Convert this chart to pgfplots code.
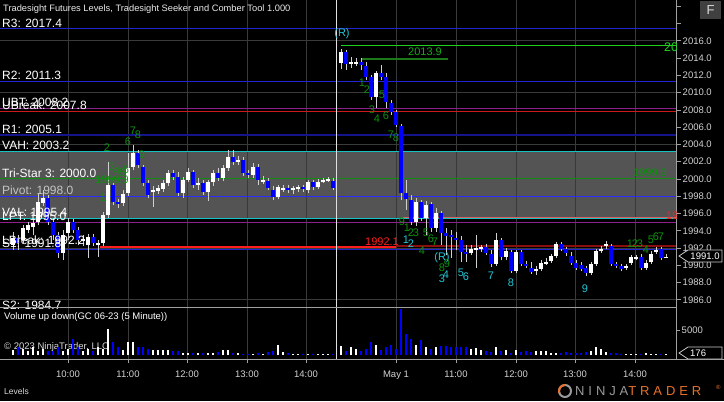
\documentclass[border=0pt]{standalone}
\usepackage{pgfplots}
\pgfplotsset{compat=1.18}
\usepackage{pgfplotstable}
\usepackage{fontspec}
\setmainfont{Liberation Sans}
\newfontfamily\logofont[LetterSpace=30]{Liberation Sans}

\definecolor{axisgray}{HTML}{A0A0A0}
\definecolor{ticktext}{HTML}{D2D2D2}
\definecolor{gridc}{HTML}{3A3A3A}
\definecolor{bandgray}{HTML}{545454}
\definecolor{wick}{HTML}{CFCFCF}
\definecolor{rblue}{HTML}{2323D2}
\definecolor{navy}{HTML}{14148C}
\definecolor{pivblue}{HTML}{2B2BFF}
\definecolor{cyanl}{HTML}{19C2C2}
\definecolor{purp}{HTML}{8B1F8B}
\definecolor{ured}{HTML}{CC1A1A}
\definecolor{darkred}{HTML}{8B0E0E}
\definecolor{brightred}{HTML}{FF1C1C}
\definecolor{trigreen}{HTML}{138A13}
\definecolor{numgreen}{HTML}{0F8F0F}
\definecolor{brightgreen}{HTML}{1ED21E}
\definecolor{dimgreen}{HTML}{1A7A1A}
\definecolor{numcyan}{HTML}{22C6D6}
\definecolor{lblgray}{HTML}{C4C4C4}
\definecolor{ntorange}{HTML}{E8702A}
\definecolor{logogray}{HTML}{9A9A9A}
\definecolor{candleblue}{HTML}{0000FF}

\newcommand{\lblfont}{\fontsize{12bp}{14bp}\selectfont}
\newcommand{\numfont}{\fontsize{11bp}{13bp}\selectfont}
\newcommand{\smfont}{\fontsize{9.5bp}{11bp}\selectfont}

% x = pixel position of bar, o h l c = price, v = volume
\pgfplotstableread{
x o h l c v
13 1992.35 1993.86 1991.77 1993.16 1000
23 1992.93 1994.67 1992.58 1994.32 1180
28 1994.09 1995.02 1993.74 1994.67 830
33 1994.44 1995.25 1993.51 1994.90 1520
38 1995.02 1998.38 1994.67 1997.34 830
43 1997.22 1998.73 1996.87 1997.80 1180
63 1991.43 1994.09 1990.61 1993.51 830
68 1993.74 1995.48 1992.93 1995.02 1180
83 1992.82 1993.51 1992.24 1993.05 830
88 1992.35 1993.63 1990.85 1993.28 1180
98 1992.47 1992.93 1990.96 1992.58 1520
103 1992.58 1996.18 1992.24 1995.83 1200
108 1995.83 2001.97 1995.48 1999.30 5130
123 1997.22 1998.73 1996.87 1998.26 970
128 1998.38 2003.01 1998.03 2001.27 2700
133 2001.39 2003.94 2001.04 2003.01 2700
153 1998.49 1999.19 1996.76 1998.73 970
158 1998.61 1999.30 1998.26 1998.96 970
163 1998.84 1999.88 1998.49 1999.54 970
168 1999.54 2001.04 1999.19 2000.70 970
183 1998.38 2000.23 1997.80 1999.88 480
188 1999.88 2001.27 1999.65 2000.81 480
198 1999.30 2000.12 1998.73 1999.54 480
208 1998.49 1999.88 1997.45 1999.65 480
213 1999.65 2001.04 1999.19 2000.70 480
223 2000.12 2001.62 1999.77 2001.27 970
228 2001.27 2003.36 2000.93 2002.55 970
238 2001.97 2002.66 2001.62 2002.20 480
253 2000.46 2001.85 2000.12 2001.39 280
263 1999.77 2000.35 1999.42 1999.88 280
278 1997.91 1999.30 1997.68 1999.07 2080
283 1998.84 1999.30 1998.49 1998.96 690
293 1998.73 1999.19 1998.26 1998.96 280
298 1998.84 1999.30 1998.49 1999.07 280
308 1998.73 1999.88 1998.38 1999.65 280
318 1999.07 2000.00 1998.84 1999.65 280
323 1999.77 2000.12 1999.54 1999.88 280
328 1999.88 2000.23 1999.65 2000.00 280
341 2013.44 2015.06 2012.75 2014.72 1870
351 2013.33 2014.14 2012.86 2013.56 1520
356 2013.44 2014.02 2013.09 2013.56 1180
376 2009.50 2012.51 2008.23 2012.28 2080
416 1995.02 1997.80 1994.55 1997.34 2080
426 1995.48 1997.45 1993.51 1996.99 1520
436 1994.32 1996.64 1993.86 1996.06 1520
471 1991.43 1992.35 1991.19 1991.89 1180
476 1991.89 1993.51 1989.69 1992.00 1350
481 1991.89 1992.35 1991.54 1992.12 970
496 1990.15 1993.74 1989.92 1992.93 1520
506 1990.96 1992.00 1990.61 1991.66 970
516 1989.34 1991.77 1989.11 1991.54 970
536 1989.46 1989.92 1988.88 1989.57 830
541 1989.57 1990.61 1989.34 1990.27 830
546 1990.27 1990.85 1990.04 1990.38 830
551 1990.50 1991.31 1990.27 1991.08 480
556 1991.08 1992.70 1990.85 1992.47 480
591 1989.11 1990.38 1988.88 1990.15 830
596 1990.15 1991.89 1989.92 1991.66 1520
601 1991.66 1992.24 1991.43 1991.89 1180
606 1992.24 1992.82 1991.89 1992.47 690
626 1989.69 1990.15 1989.46 1989.92 280
631 1990.27 1991.19 1990.04 1990.96 280
636 1990.85 1991.19 1990.61 1990.96 280
646 1989.69 1990.61 1989.46 1990.27 480
651 1990.38 1991.66 1990.15 1991.31 280
656 1991.54 1992.12 1991.31 1991.77 280
666 1990.90 1991.31 1990.85 1991.00 176
}\upbars

\pgfplotstableread{
x o h l c v
18 1993.16 1993.51 1991.77 1992.58 1520
48 1997.80 1998.15 1994.67 1995.02 830
53 1995.02 1995.48 1992.93 1993.51 830
58 1993.51 1993.86 1990.85 1991.43 1520
73 1995.02 1995.37 1993.74 1994.09 3260
78 1994.09 1994.44 1992.35 1992.93 1520
93 1993.28 1993.63 1992.24 1992.58 830
113 1999.30 1999.54 1996.99 1997.34 2560
118 1997.34 1997.68 1996.64 1997.22 1520
138 2003.01 2003.36 2001.27 2001.62 1520
143 2001.39 2001.62 1999.19 1999.54 1520
148 1999.54 1999.88 1997.80 1998.15 1180
173 2000.70 2001.04 1999.88 2000.23 830
178 2000.23 2000.81 1998.03 1998.38 830
193 2000.81 2001.04 1998.96 1999.30 480
203 1999.54 1999.88 1998.15 1998.49 480
218 2000.70 2001.27 1999.77 2000.12 690
233 2002.55 2003.36 2001.62 2001.97 480
243 2002.20 2002.55 2000.35 2000.70 280
248 2000.70 2001.04 2000.12 2000.46 280
258 2001.39 2001.74 1999.30 1999.88 480
268 1999.77 2000.12 1998.73 1998.96 690
273 1998.73 1999.19 1997.57 1997.91 830
288 1998.96 1999.30 1998.38 1998.73 480
303 1999.07 1999.30 1998.49 1998.84 280
313 1999.65 1999.88 1998.73 1999.07 280
333 1999.77 2000.12 1998.73 1998.96 280
346 2014.72 2014.95 2012.63 2013.33 830
361 2013.56 2014.02 2012.63 2013.21 830
366 2013.09 2013.56 2011.47 2011.82 1180
371 2011.82 2012.05 2009.15 2009.50 2560
381 2012.28 2013.21 2011.47 2011.82 970
386 2011.82 2012.28 2008.23 2008.92 1520
391 2008.81 2009.15 2007.42 2007.76 2080
396 2007.76 2007.99 2006.03 2006.26 1180
401 2006.14 2006.37 1997.57 1998.38 9300
406 1998.38 1999.88 1996.41 1997.68 4300
411 1997.57 1998.15 1994.67 1995.02 3260
421 1997.34 1997.57 1995.13 1995.48 3050
431 1997.10 1997.34 1993.86 1994.32 1180
441 1996.06 1996.29 1992.35 1993.74 1870
446 1993.74 1994.32 1991.19 1993.40 1870
451 1993.51 1994.09 1990.85 1993.28 1520
456 1993.16 1993.86 1991.77 1992.93 1520
461 1992.93 1993.40 1990.38 1991.54 1520
466 1991.54 1992.35 1990.38 1991.43 1520
486 1992.12 1992.47 1991.19 1991.43 830
491 1991.31 1991.77 1989.80 1990.15 690
501 1992.93 1993.16 1990.61 1990.96 830
511 1991.54 1991.77 1989.11 1989.34 480
521 1991.54 1991.77 1989.92 1990.15 690
526 1990.15 1990.50 1989.69 1990.04 830
531 1989.69 1990.38 1988.99 1989.22 690
561 1992.47 1992.70 1991.66 1991.89 480
566 1991.89 1992.12 1991.08 1991.43 690
571 1991.08 1991.54 1990.04 1990.27 480
576 1990.27 1990.61 1989.46 1989.69 480
581 1990.04 1990.38 1989.34 1989.57 480
586 1989.69 1989.92 1988.76 1989.11 690
611 1992.24 1992.47 1989.92 1990.15 480
616 1990.15 1990.38 1989.69 1989.92 480
621 1989.92 1990.15 1989.34 1989.57 280
641 1990.96 1991.31 1989.46 1989.69 280
661 1991.89 1992.12 1990.61 1990.85 280
}\downbars

\begin{document}
\begin{tikzpicture}[x=1bp,y=1bp]
\fill[black] (0,0) rectangle (724,401);

% ---------------- price panel ----------------
\begin{axis}[
  at={(0bp,93bp)}, anchor=south west, scale only axis,
  width=676bp, height=308bp,
  xmin=0, xmax=676, ymin=1985.05, ymax=2020.74,
  axis x line*=bottom, axis y line*=right,
  x axis line style={draw=none},
  xtick=\empty,
  ytick={1986,1988,...,2016},
  extra y ticks={2018,2020}, extra y tick labels={},
  tick align=outside, major tick length=5bp,
  y axis line style={draw=axisgray, line width=0.8bp},
  ytick style={draw=axisgray, line width=0.8bp},
  yticklabel style={font=\smfont, text=ticktext, inner sep=1.5bp},
  /pgf/number format/fixed, /pgf/number format/fixed zerofill,
  /pgf/number format/precision=1, /pgf/number format/1000 sep={},
  /pgf/number format/assume math mode=true,
]
% value area band
\addplot[draw=none, fill=bandgray, forget plot] coordinates {(0,1995.4) (676,1995.4) (676,2003.2) (0,2003.2)};
% horizontal grid
\addplot[gridc, line width=0.8bp] coordinates {(0,2016)(676,2016)};
\addplot[gridc, line width=0.8bp] coordinates {(0,2010)(676,2010)};
\addplot[gridc, line width=0.8bp] coordinates {(0,2004)(676,2004)};
\addplot[gridc, line width=0.8bp] coordinates {(0,1992)(676,1992)};
\addplot[gridc, line width=0.8bp] coordinates {(0,1986)(676,1986)};
% vertical grid
\addplot[gridc, line width=0.8bp] coordinates {(68,1985.05)(68,2020.74)};
\addplot[gridc, line width=0.8bp] coordinates {(128,1985.05)(128,2020.74)};
\addplot[gridc, line width=0.8bp] coordinates {(187,1985.05)(187,2020.74)};
\addplot[gridc, line width=0.8bp] coordinates {(247,1985.05)(247,2020.74)};
\addplot[gridc, line width=0.8bp] coordinates {(306,1985.05)(306,2020.74)};
\addplot[gridc, line width=0.8bp] coordinates {(396,1985.05)(396,2020.74)};
\addplot[gridc, line width=0.8bp] coordinates {(456,1985.05)(456,2020.74)};
\addplot[gridc, line width=0.8bp] coordinates {(516,1985.05)(516,2020.74)};
\addplot[gridc, line width=0.8bp] coordinates {(575,1985.05)(575,2020.74)};
\addplot[gridc, line width=0.8bp] coordinates {(635,1985.05)(635,2020.74)};
% levels
\addplot[rblue, line width=1.2bp] coordinates {(0,2017.4)(676,2017.4)};
\addplot[rblue, line width=1bp] coordinates {(0,2011.3)(676,2011.3)};
\addplot[purp, line width=1bp] coordinates {(0,2008.2)(676,2008.2)};
\addplot[ured, line width=1bp] coordinates {(0,2007.8)(676,2007.8)};
\addplot[navy, line width=1.6bp] coordinates {(0,2005.1)(676,2005.1)};
\addplot[cyanl, line width=1.6bp] coordinates {(0,2003.2)(676,2003.2)};
\addplot[trigreen, line width=1bp] coordinates {(0,2000.0)(676,2000.0)};
\addplot[pivblue, line width=1.3bp] coordinates {(0,1998.0)(676,1998.0)};
\addplot[cyanl, line width=1.6bp] coordinates {(0,1995.4)(676,1995.4)};
\addplot[ured!70!white, line width=0.9bp] coordinates {(403,1995.6)(676,1995.6)};
\addplot[purp, line width=1bp] coordinates {(0,1995.0)(676,1995.0)};
\addplot[brightred, line width=2bp] coordinates {(100,1992.15)(396,1992.15)};
\addplot[darkred, line width=2bp] coordinates {(396,1992.2)(676,1992.2)};
\addplot[rblue, line width=1bp] coordinates {(0,1991.8)(676,1991.8)};
\addplot[brightgreen, line width=1.4bp] coordinates {(341,2015.5)(676,2015.5)};
\addplot[dimgreen, line width=1.3bp] coordinates {(362,2013.9)(448,2013.9)};
% session break
\addplot[white!88!black, line width=1bp] coordinates {(336.5,1985.05)(336.5,2020.74)};
% wicks
\addplot[draw=none, forget plot, error bars/.cd, y dir=plus, y explicit, error mark=none,
  error bar style={draw=wick, line width=1bp}]
  table[x=x, y=l, y error expr=\thisrow{h}-\thisrow{l}] {\upbars};
\addplot[draw=none, forget plot, error bars/.cd, y dir=plus, y explicit, error mark=none,
  error bar style={draw=wick, line width=1bp}]
  table[x=x, y=l, y error expr=\thisrow{h}-\thisrow{l}] {\downbars};
% bodies
\addplot[draw=none, forget plot, error bars/.cd, y dir=both, y explicit, error mark=none,
  error bar style={draw=white, line width=3.8bp}]
  table[x=x, y expr=(\thisrow{o}+\thisrow{c})/2, y error expr={max(abs(\thisrow{c}-\thisrow{o})/2,0.06)}] {\upbars};
\addplot[draw=none, forget plot, error bars/.cd, y dir=both, y explicit, error mark=none,
  error bar style={draw=candleblue, line width=3.8bp}]
  table[x=x, y expr=(\thisrow{o}+\thisrow{c})/2, y error expr={max(abs(\thisrow{c}-\thisrow{o})/2,0.06)}] {\downbars};

% level labels
\begin{scope}[every node/.style={anchor=base west, inner sep=0, font=\lblfont, text=white, yshift=1.8bp}]
\node at (2,2017.4) {R3: 2017.4};
\node at (2,2011.3) {R2: 2011.3};
\node at (2,2008.2) {UBT: 2008.2};
\node at (2,2007.8) {UBreak: 2007.8};
\node at (2,2005.1) {R1: 2005.1};
\node at (2,2003.2) {VAH: 2003.2};
\node at (2,2000.0) {Tri-Star 3: 2000.0};
\node[text=lblgray] at (2,1998.0) {Pivot: 1998.0};
\node at (2,1995.4) {VAL: 1995.4};
\node at (2,1995.0) {LPT: 1995.0};
\node at (2,1992.2) {LBreak: 1992.2};
\node at (2,1991.8) {S1: 1991.8};
\node at (2,1984.7) {S2: 1984.7};
\end{scope}

% seeker / comber counts
\begin{scope}[every node/.style={inner sep=0, font=\numfont, text=numgreen}]
\node at (103,1997.80) {1};
\node at (107,2003.59) {2};
\node at (112,2001.39) {3};
\node at (117,2000.93) {4};
\node at (122,2000.70) {5};
\node at (126,2001.04) {6};
\node at (112,1999.88) {1999.9};
\node at (128,2004.29) {6};
\node at (133,2005.56) {7};
\node at (138,2005.10) {8};
\node at (142,2002.78) {9};
\node at (362,2011.12) {1};
\node at (367,2010.31) {2};
\node at (372,2008.00) {3};
\node at (377,2006.95) {4};
\node at (382,2009.73) {5};
\node at (386,2007.30) {6};
\node at (391,2005.10) {7};
\node at (396,2004.75) {8};
\node[text=brightgreen!80!black] at (425,2014.72) {2013.9};
\node[anchor=west, text=brightgreen, font=\fontsize{12.5bp}{14bp}\selectfont] at (664,2015.30) {20};
\node at (650,2000.70) {1999.9};
\node at (402,1995.02) {9};
\node at (407,1994.32) {1};
\node at (411,1993.74) {2};
\node at (416,1993.74) {3};
\node at (422,1991.66) {4};
\node at (426,1993.74) {5};
\node at (431,1993.05) {6};
\node at (435,1992.70) {7};
\node at (442,1989.69) {8};
\node at (447,1990.15) {9};
\node at (630,1992.47) {1};
\node at (635,1992.47) {2};
\node at (640,1992.47) {3};
\node at (646,1991.77) {4};
\node at (651,1992.93) {5};
\node at (656,1993.28) {6};
\node at (661,1993.28) {7};
\end{scope}
\begin{scope}[every node/.style={inner sep=0, font=\numfont, text=numcyan}]
\node at (342,2016.80) {(R)};
\node at (406,1992.93) {1};
\node at (411,1992.47) {2};
\node at (442,1990.85) {(R)};
\node at (442,1988.41) {3};
\node at (446,1988.88) {4};
\node at (461,1989.11) {5};
\node at (466,1988.64) {6};
\node at (491,1988.76) {7};
\node at (511,1987.95) {8};
\node at (585,1987.25) {9};
\end{scope}
\node[inner sep=0, font=\numfont, text=brightred] at (382,1992.70) {1992.1};
\node[inner sep=0, font=\numfont, text=brightred, anchor=west] at (666,1995.75) {19};
\end{axis}

\node[anchor=west, inner sep=0, font=\smfont, text=white!85!black] at (4,54) {\textcopyright\ 2023 NinjaTrader, LLC};

% ---------------- volume panel ----------------
\begin{axis}[
  at={(0bp,42bp)}, anchor=south west, scale only axis,
  width=676bp, height=52bp,
  xmin=0, xmax=676, ymin=-800, ymax=9600,
  axis y line*=right, axis x line*=bottom,
  ytick={5000},
  xtick={68,128,187,247,306,396,456,516,575,635},
  xticklabels={10:00,11:00,12:00,13:00,14:00,May 1,11:00,12:00,13:00,14:00},
  tick align=outside, major tick length=4bp,
  axis line style={draw=axisgray, line width=0.8bp},
  tick style={draw=axisgray, line width=0.8bp},
  yticklabel style={font=\smfont, text=ticktext, inner sep=1.5bp},
  xticklabel style={font=\smfont, text=ticktext, yshift=-4bp},
  /pgf/number format/1000 sep={},
  /pgf/number format/assume math mode=true,
]
\addplot[gridc, line width=0.8bp] coordinates {(68,-800)(68,9600)};
\addplot[gridc, line width=0.8bp] coordinates {(128,-800)(128,9600)};
\addplot[gridc, line width=0.8bp] coordinates {(187,-800)(187,9600)};
\addplot[gridc, line width=0.8bp] coordinates {(247,-800)(247,9600)};
\addplot[gridc, line width=0.8bp] coordinates {(306,-800)(306,9600)};
\addplot[gridc, line width=0.8bp] coordinates {(396,-800)(396,9600)};
\addplot[gridc, line width=0.8bp] coordinates {(456,-800)(456,9600)};
\addplot[gridc, line width=0.8bp] coordinates {(516,-800)(516,9600)};
\addplot[gridc, line width=0.8bp] coordinates {(575,-800)(575,9600)};
\addplot[gridc, line width=0.8bp] coordinates {(635,-800)(635,9600)};
\addplot[white!88!black, line width=1bp] coordinates {(336.5,-800)(336.5,9600)};
\addplot[ycomb, draw=white, line width=2bp, forget plot] table[x=x, y=v] {\upbars};
\addplot[ycomb, draw=candleblue, line width=2bp, forget plot] table[x=x, y=v] {\downbars};
\end{axis}

% chrome
\draw[axisgray, line width=0.8bp] (0,94) -- (676,94);
\draw[axisgray, line width=0.8bp] (676,42) -- (724,42);
\node[anchor=west, inner sep=0, font=\smfont, text=white] at (4,84) {Volume up down(GC 06-23 (5 Minute))};
\node[anchor=west, inner sep=0, font=\fontsize{9.3bp}{11bp}\selectfont, text=white!92!black] at (3,392) {Tradesight Futures Levels, Tradesight Seeker and Comber Tool 1.000};

% current price marker
\draw[white!80!black, line width=0.8bp, fill=black] (679,145) -- (688,151) -- (722,151) -- (722,139) -- (688,139) -- cycle;
\node[font=\smfont, text=white, inner sep=0] at (705,145) {1991.0};
% current volume marker
\draw[white!80!black, line width=0.8bp, fill=black] (679,48) -- (688,54) -- (722,54) -- (722,42) -- (688,42) -- cycle;
\node[font=\smfont, text=white, inner sep=0, anchor=west] at (690,48) {176};

% F button
\fill[white!25!black] (700,382) rectangle (721,400);
\node[font=\fontsize{13bp}{15bp}\selectfont, text=white!85!black, inner sep=0] at (710.5,391) {F};

% bottom bar
\node[anchor=west, inner sep=0, font=\fontsize{8.5bp}{10bp}\selectfont, text=white!85!black] at (4,10) {Levels};
\draw[logogray, line width=2bp] (565,10) circle (6);
\draw[ntorange, line width=2bp] (565,16) arc (90:200:6);
\node[anchor=west, inner sep=0, font=\logofont\fontsize{13bp}{15bp}\selectfont, text=logogray] at (575,10) {NINJA\textcolor{ntorange}{TRADER}};
\node[anchor=west, inner sep=0, font=\fontsize{6bp}{7bp}\selectfont, text=ntorange] at (716,14) {\textregistered};
\pgfresetboundingbox
\path[use as bounding box] (0,0) rectangle (724,401);
\end{tikzpicture}
\end{document}
